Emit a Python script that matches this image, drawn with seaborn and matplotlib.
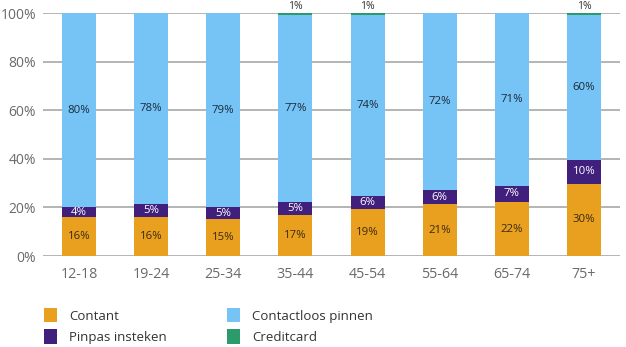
import numpy as np
import pandas as pd
import matplotlib
matplotlib.use("Agg")
import matplotlib.pyplot as plt
from matplotlib.patches import Patch
import seaborn as sns

# ---- data ----
categories = ["12-18", "19-24", "25-34", "35-44", "45-54", "55-64", "65-74", "75+"]
contant = [16.2, 16.2, 15.2, 16.9, 19.2, 21.3, 22.1, 29.7]
pinpas = [3.8, 5.2, 4.8, 5.2, 5.6, 5.9, 6.9, 9.9]
contactloos = [80.0, 78.6, 80.0, 77.1, 74.4, 72.8, 71.0, 59.6]
creditcard = [0.0, 0.0, 0.0, 0.8, 0.8, 0.0, 0.0, 0.8]

contant_lbl = [16, 16, 15, 17, 19, 21, 22, 30]
pinpas_lbl = [4, 5, 5, 5, 6, 6, 7, 10]
contactloos_lbl = [80, 78, 79, 77, 74, 72, 71, 60]
creditcard_lbl = [None, None, None, 1, 1, None, None, 1]

series_names = ["Contant", "Pinpas insteken", "Contactloos pinnen", "Creditcard"]
colors = ["#E9A01F", "#41207D", "#76C3F5", "#2C9B6C"]
yticks = [0, 20, 40, 60, 80, 100]

sns.set_theme(style="white")
plt.rcParams["font.family"] = ["Open Sans", "DejaVu Sans"]

df = pd.DataFrame({"cat": categories, "Contant": contant, "Pinpas insteken": pinpas,
                   "Contactloos pinnen": contactloos, "Creditcard": creditcard})
cum = df[series_names].cumsum(axis=1)

fig = plt.figure(figsize=(6.26, 3.47), dpi=100)
ax = fig.add_axes([43 / 626, 1 - 256 / 347, (620 - 43) / 626, (256 - 13.3) / 347])

for name, col in reversed(list(zip(series_names, colors))):
    sns.barplot(x=df["cat"], y=cum[name], color=col, width=0.47, ax=ax,
                saturation=1, zorder=3, linewidth=0)

ax.set_xlim(-0.5, 7.5)
ax.set_ylim(0, 100)
ax.set_yticks(yticks)
ax.set_yticklabels([f"{v}%" for v in yticks])
ax.yaxis.grid(True, color="#A8A8A8", linewidth=1.2, zorder=0)
ax.set_axisbelow(True)
for s in ax.spines.values():
    s.set_visible(False)
ax.set_xlabel("")
ax.set_ylabel("")
ax.tick_params(axis="y", length=0, pad=5, labelsize=10, labelcolor="#6A6A6A")
ax.tick_params(axis="x", length=0, pad=8, labelsize=10.3, labelcolor="#6A6A6A")

lbl_fs = 8.2
for i in range(len(categories)):
    c0 = contant[i]
    c1 = c0 + pinpas[i]
    c2 = c1 + contactloos[i]
    ax.text(i, c0 / 2, f"{contant_lbl[i]}%", ha="center", va="center", fontsize=lbl_fs, color="#3A2A10", zorder=5)
    ax.text(i, (c0 + c1) / 2, f"{pinpas_lbl[i]}%", ha="center", va="center", fontsize=lbl_fs, color="white", zorder=5)
    ax.text(i, (c1 + c2) / 2, f"{contactloos_lbl[i]}%", ha="center", va="center", fontsize=lbl_fs, color="#1B2A3A", zorder=5)
    if creditcard_lbl[i] is not None:
        ax.text(i, 103, f"{creditcard_lbl[i]}%", ha="center", va="center", fontsize=7.5, color="#333333",
                zorder=5, clip_on=False)

handles = [Patch(facecolor=c, edgecolor="none") for c in colors]
fig.legend(handles, series_names, loc="upper left", bbox_to_anchor=(44 / 626, 1 - 308 / 347),
           ncol=2, frameon=False, fontsize=9.5, handlelength=1.0, handleheight=1.3,
           handletextpad=0.9, columnspacing=4.55, labelspacing=0.5, borderpad=0, borderaxespad=0,
           labelcolor="#333333")

fig.savefig("out.png", dpi=100)
